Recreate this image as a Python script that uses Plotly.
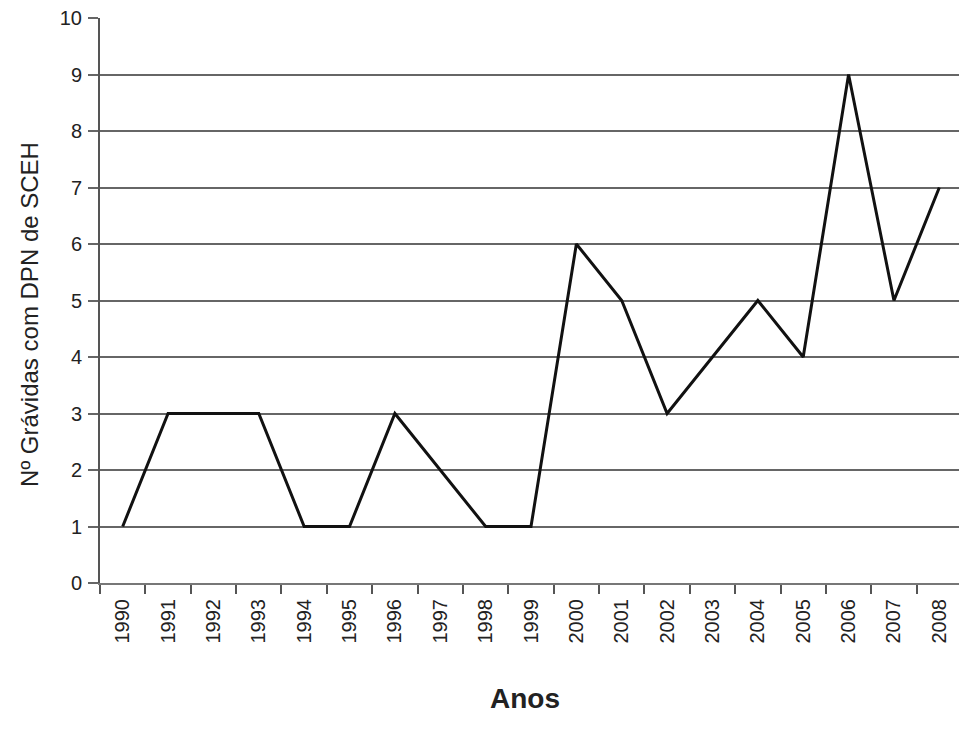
import plotly.graph_objects as go

years = ["1990", "1991", "1992", "1993", "1994", "1995", "1996", "1997", "1998", "1999",
         "2000", "2001", "2002", "2003", "2004", "2005", "2006", "2007", "2008"]
values = [1, 3, 3, 3, 1, 1, 3, 2, 1, 1, 6, 5, 3, 4, 5, 4, 9, 5, 7]
y_ticks = list(range(0, 11))

fig = go.Figure()
fig.add_trace(go.Scatter(
    x=years, y=values, mode="lines",
    line=dict(color="#111111", width=3),
    showlegend=False,
))

fig.update_layout(
    width=959, height=721,
    margin=dict(l=92, r=5, t=10, b=146),
    paper_bgcolor="white", plot_bgcolor="white",
    font=dict(family="Liberation Sans, Arial, sans-serif", color="#222222"),
    xaxis=dict(
        type="category", tickson="boundaries", automargin=False,
        ticks="outside", ticklen=9, tickwidth=2, tickcolor="#555555",
        showgrid=False, showline=True, linecolor="#777777", linewidth=2,
        tickangle=-90, tickfont=dict(size=20, color="#222222"),
        ticklabelstandoff=6,
        range=[-0.5, 18.5],
    ),
    yaxis=dict(
        range=[0, 10], tickvals=y_ticks, automargin=False,
        ticks="outside", ticklen=10, tickwidth=2, tickcolor="#666666",
        showgrid=True, gridcolor="#666666", gridwidth=2,
        showline=True, linecolor="#555555", linewidth=2,
        zeroline=False, ticklabeloverflow="allow",
        tickfont=dict(size=20, color="#222222"),
        ticklabelstandoff=2,
    ),
    annotations=[
        dict(text="<b>Anos</b>", xref="paper", yref="paper", x=0.493, y=-0.205,
             xanchor="center", yanchor="middle", showarrow=False,
             font=dict(size=28, color="#222222")),
        dict(text="Nº Grávidas com DPN de SCEH", xref="paper", yref="paper",
             x=-0.082, y=0.475, textangle=-90, xanchor="center", yanchor="middle",
             showarrow=False, font=dict(size=24, color="#222222")),
    ],
)

fig.write_html("out.html")
